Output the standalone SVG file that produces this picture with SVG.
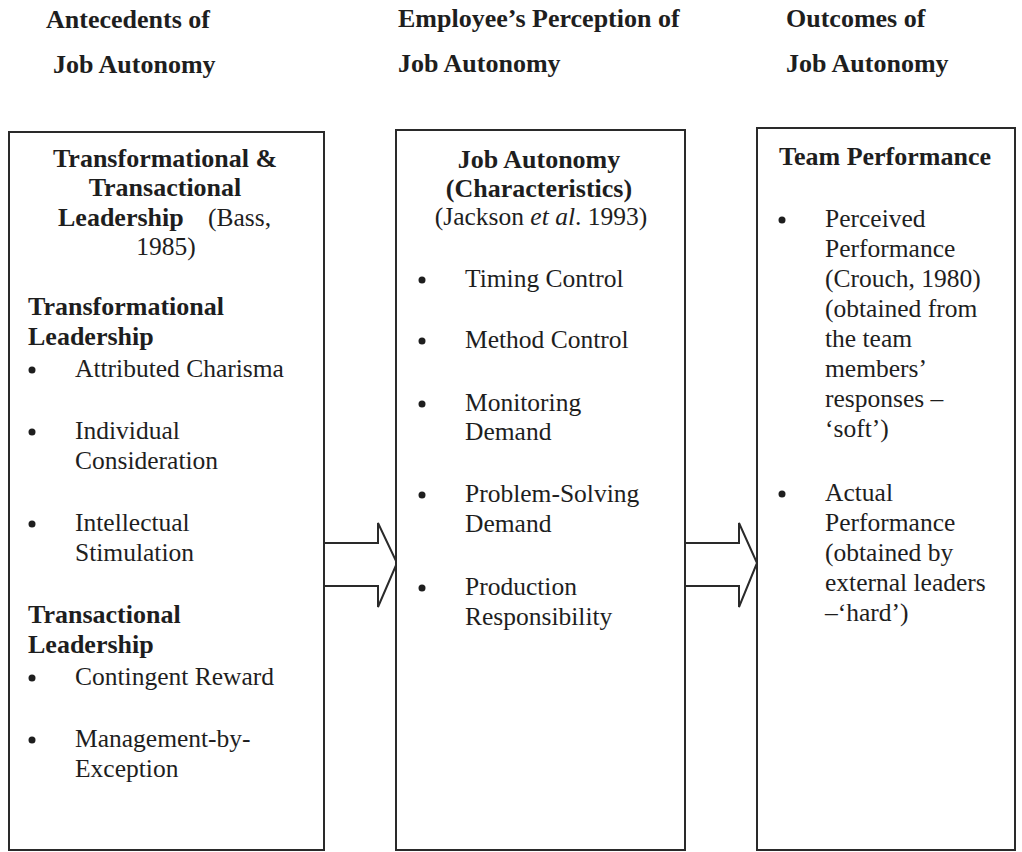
<svg xmlns="http://www.w3.org/2000/svg" width="1022" height="852" viewBox="0 0 1022 852">
  <style>
    text { font-family: "Liberation Serif", "Times New Roman", serif; fill: #1e1e1e; }
    .hd { font-size: 26px; font-weight: bold; }
    .tt { font-size: 26px; font-weight: bold; }
    .bd { font-size: 25.5px; }
    .mid { text-anchor: middle; }
    .box { fill: #ffffff; stroke: #2a2a2a; stroke-width: 2; }
    .arrow { fill: #ffffff; stroke: #2a2a2a; stroke-width: 2; stroke-linejoin: miter; }
    .dot { fill: #1e1e1e; }
  </style>
  <rect width="1022" height="852" fill="#ffffff"/>

  <!-- column headings -->
  <g id="headings">
    <text class="hd" x="46" y="28">Antecedents of</text>
    <text class="hd" x="53" y="73">Job Autonomy</text>
    <text class="hd" x="398" y="27">Employee’s Perception of</text>
    <text class="hd" x="398" y="72">Job Autonomy</text>
    <text class="hd" x="786" y="27">Outcomes of</text>
    <text class="hd" x="786" y="72">Job Autonomy</text>
  </g>

  <!-- block arrows between the boxes -->
  <g id="connectors">
    <polyline class="arrow" points="324,543 378,543 378,523 397,563 378,607 378,586 324,586"/>
    <polyline class="arrow" points="685,543 739,543 739,523 757,563 739,607 739,586 685,586"/>
  </g>

  <!-- antecedents: leadership styles -->
  <g id="antecedents">
    <rect class="box" x="9" y="132" width="315" height="718"/>
    <text class="tt mid" x="165" y="167">Transformational &amp;</text>
    <text class="tt mid" x="165" y="196">Transactional</text>
    <text x="58" y="226"><tspan class="tt">Leadership</tspan><tspan class="bd" x="208">(Bass,</tspan></text>
    <text class="bd mid" x="166" y="255">1985)</text>

    <text class="tt" x="28" y="315">Transformational</text>
    <text class="tt" x="28" y="345">Leadership</text>
    <circle class="dot" cx="32" cy="370" r="3.5"/>
    <text class="bd" x="75" y="377">Attributed Charisma</text>
    <circle class="dot" cx="32" cy="432" r="3.5"/>
    <text class="bd" x="75" y="439">Individual</text>
    <text class="bd" x="75" y="469">Consideration</text>
    <circle class="dot" cx="32" cy="524" r="3.5"/>
    <text class="bd" x="75" y="531">Intellectual</text>
    <text class="bd" x="75" y="561">Stimulation</text>

    <text class="tt" x="28" y="623">Transactional</text>
    <text class="tt" x="28" y="653">Leadership</text>
    <circle class="dot" cx="32" cy="678" r="3.5"/>
    <text class="bd" x="75" y="685">Contingent Reward</text>
    <circle class="dot" cx="32" cy="740" r="3.5"/>
    <text class="bd" x="75" y="747">Management-by-</text>
    <text class="bd" x="75" y="777">Exception</text>
  </g>

  <!-- perceived job autonomy -->
  <g id="perception">
    <rect class="box" x="396" y="130" width="289" height="720"/>
    <text class="tt mid" x="539" y="168">Job Autonomy</text>
    <text class="tt mid" x="539" y="197">(Characteristics)</text>
    <text class="bd mid" x="541" y="225">(Jackson <tspan font-style="italic">et al</tspan>. 1993)</text>
    <circle class="dot" cx="422" cy="280" r="3.5"/>
    <text class="bd" x="465" y="287">Timing Control</text>
    <circle class="dot" cx="422" cy="341" r="3.5"/>
    <text class="bd" x="465" y="348">Method Control</text>
    <circle class="dot" cx="422" cy="404" r="3.5"/>
    <text class="bd" x="465" y="411">Monitoring</text>
    <text class="bd" x="465" y="440">Demand</text>
    <circle class="dot" cx="422" cy="495" r="3.5"/>
    <text class="bd" x="465" y="502">Problem-Solving</text>
    <text class="bd" x="465" y="532">Demand</text>
    <circle class="dot" cx="422" cy="588" r="3.5"/>
    <text class="bd" x="465" y="595">Production</text>
    <text class="bd" x="465" y="625">Responsibility</text>
  </g>

  <!-- outcomes: team performance -->
  <g id="outcomes">
    <rect class="box" x="757" y="128" width="258" height="722"/>
    <text class="tt" x="779" y="165">Team Performance</text>
    <circle class="dot" cx="782" cy="220" r="3.5"/>
    <text class="bd" x="825" y="227">Perceived</text>
    <text class="bd" x="825" y="257">Performance</text>
    <text class="bd" x="825" y="287">(Crouch, 1980)</text>
    <text class="bd" x="825" y="317">(obtained from</text>
    <text class="bd" x="825" y="347">the team</text>
    <text class="bd" x="825" y="377">members’</text>
    <text class="bd" x="825" y="407">responses –</text>
    <text class="bd" x="825" y="437">‘soft’)</text>
    <circle class="dot" cx="782" cy="494" r="3.5"/>
    <text class="bd" x="825" y="501">Actual</text>
    <text class="bd" x="825" y="531">Performance</text>
    <text class="bd" x="825" y="561">(obtained by</text>
    <text class="bd" x="825" y="591">external leaders</text>
    <text class="bd" x="825" y="621">–‘hard’)</text>
  </g>
</svg>
